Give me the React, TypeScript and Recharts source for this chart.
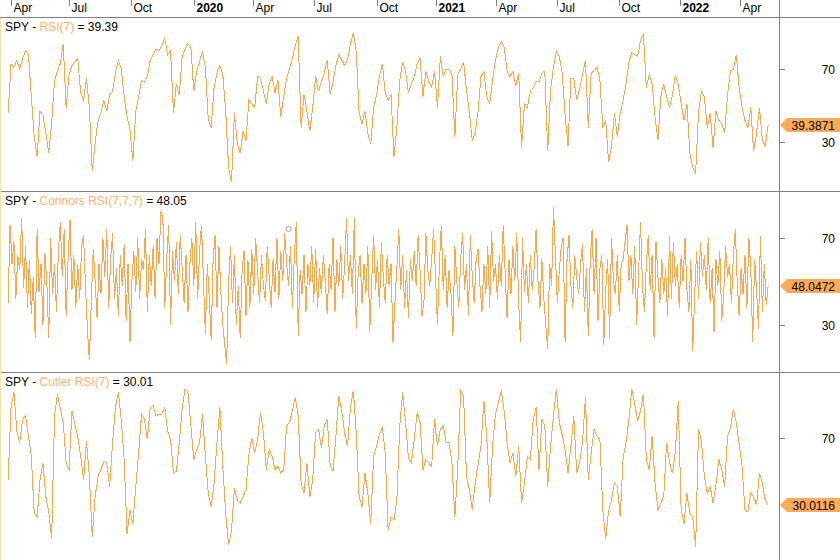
import React from 'react';
import { LineChart, Line, XAxis, YAxis, ReferenceDot } from 'recharts';

// ---- data ----
const tickDays = [3, 63, 127, 192, 253, 316, 381, 443, 505, 568, 632, 695, 757];
const tickLabels = ['Apr', 'Jul', 'Oct', '2020', 'Apr', 'Jul', 'Oct', '2021', 'Apr', 'Jul', 'Oct', '2022', 'Apr'];

const rsiStep = 3; // trading days between samples
const rsi7 = [
  46, 73, 71, 75, 70, 76, 80, 78, 55, 33,
  22, 47, 45, 35, 24, 40, 64, 69, 73, 84,
  49, 67, 72, 74, 76, 57, 53, 65, 49, 14,
  30, 42, 46, 53, 47, 56, 58, 68, 75, 70,
  55, 44, 37, 20, 47, 55, 64, 63, 66, 75,
  78, 81, 80, 83, 87, 78, 80, 46, 62, 56,
  77, 81, 84, 82, 58, 69, 74, 80, 71, 42,
  38, 60, 68, 72, 67, 47, 16, 8, 46, 29,
  24, 36, 31, 53, 51, 49, 66, 65, 58, 51,
  62, 66, 57, 64, 44, 55, 65, 70, 76, 83,
  88, 38, 56, 47, 36, 49, 66, 58, 63, 68,
  75, 56, 63, 72, 78, 75, 72, 75, 84, 90,
  80, 46, 40, 47, 35, 29, 49, 56, 66, 73,
  57, 53, 56, 22, 38, 64, 74, 69, 57, 62,
  66, 73, 76,
  55, 69, 63, 60, 69, 49, 77,
  66, 70, 70, 67, 33, 67, 70, 74, 59, 46,
  31, 35, 47, 66, 69, 55, 51, 64, 75, 82,
  85, 82, 69, 66, 69, 61, 68, 27, 51, 49,
  58, 60, 63, 63, 68, 69, 25, 59, 71, 80,
  77, 68, 45, 28, 65, 65, 53, 59, 67, 75,
  38, 68, 69, 71, 64, 38, 42, 19, 28, 46,
  33, 46, 53, 62, 74, 79, 78, 77, 86, 89,
  60, 67, 62, 44, 31, 55, 62, 55, 49, 56,
  67, 62, 51, 42, 51, 24, 16, 13, 47, 58,
  55, 38, 46, 27, 47, 42, 40, 35, 56, 69,
  70, 78, 60, 49, 42, 38, 49, 25, 35, 49,
  31, 28, 39.3871,
];

const connorsStep = 2;
const connorsRsi = [
  40, 76, 58, 68, 42, 62, 55, 79, 47, 66,
  38, 60, 35, 52, 24, 74, 45, 58, 30, 63,
  50, 24, 70, 44, 58, 36, 64, 77, 52, 74,
  34, 60, 78, 46, 62, 38, 58, 42, 66, 71,
  48, 28, 14, 40, 65, 50, 33, 58, 44, 70,
  52, 74, 38, 60, 72, 42, 56, 34, 62, 48,
  67, 32, 58, 22, 50, 64, 45, 70, 42, 60,
  55, 74, 36, 62, 48, 66, 42, 70, 58, 82,
  80, 38, 60, 76, 30, 64, 50, 68, 44, 71,
  56, 40, 62, 36, 58, 70, 48, 77, 42, 64,
  76, 50, 26, 58, 42, 23, 60, 71, 38, 66,
  45, 30, 21, 12, 50, 66, 40, 62, 30, 48,
  24, 55, 64, 34, 60, 38, 65, 44, 70, 54,
  40, 62, 48, 41, 66, 52, 38, 60, 45, 70,
  42, 64, 50, 72, 58, 48, 66, 38, 62, 77,
  25, 55, 44, 62, 36, 58, 48, 66, 40, 65,
  38, 56, 44, 62, 50, 35, 58, 46, 70, 36,
  60, 48, 66, 42, 58, 79, 50, 62, 44, 79,
  28, 54, 62, 40, 58, 44, 66, 27, 50, 71,
  46, 60, 38, 68, 52, 40, 62, 48, 58, 22,
  40, 56, 74, 46, 62, 38, 55, 33, 60, 50,
  64, 48, 71, 55,
  34, 40, 72, 55, 48, 60,
  74, 52, 30, 58, 76, 46, 62, 38, 55, 44,
  25, 66, 50, 38, 60, 72, 46, 58, 34, 71,
  52, 40, 60, 65, 48, 36, 58, 44, 66, 38,
  73, 50, 58, 42, 62, 48, 76, 54, 33, 60,
  44, 66, 50, 72, 40, 22, 70, 45, 58, 40,
  62, 46, 56, 74, 50, 38, 60, 42, 30, 19,
  58, 48, 84, 62, 40, 55, 66, 70, 22, 60,
  71, 48, 38, 62, 52, 44, 58, 67, 36, 56,
  25, 60, 74, 44, 70, 32, 56, 62, 21, 46,
  60, 24, 70, 50, 44, 62, 36, 58, 60, 68,
  76, 50, 62, 44, 66, 30, 54, 77, 48, 36,
  58, 71, 46, 62, 24, 68, 52, 40, 60, 44,
  56, 34, 71, 42, 68, 48, 58, 38, 62, 50,
  70, 46, 36, 60, 18, 44, 64, 42, 68, 52,
  62, 46, 70, 40, 56, 27, 60, 48, 64, 32,
  44, 66, 52, 58, 40, 62, 74, 50, 34, 56,
  44, 62, 38, 70, 56, 22, 60, 46, 28, 71,
  36, 58, 39, 48.0472,
];

const cutlerStep = 3;
const cutlerRsi = [
  45, 88, 97, 74, 67, 81, 83, 71, 59, 25,
  23, 45, 55, 35, 26, 10, 83, 96, 87, 79,
  55, 51, 86, 78, 71, 59, 45, 68, 47, 11,
  35, 47, 51, 56, 55, 41, 67, 88, 97, 81,
  57, 13, 27, 19, 41, 61, 84, 81, 69, 88,
  89, 83, 84, 84, 88, 74, 69, 49, 50, 67,
  87, 99, 97, 77, 57, 63, 67, 84, 59, 37,
  29, 43, 67, 88, 53, 25, 6, 15, 40, 33,
  31, 35, 39, 60, 70, 61, 69, 85, 73, 51,
  63, 59, 51, 53, 49, 51, 77, 79, 86, 94,
  83, 43, 37, 55, 35, 45, 73, 75, 64, 77,
  81, 54, 50, 71, 95, 86, 73, 65, 88, 98,
  73, 35, 29, 49, 37, 19, 59, 65, 72, 76,
  61, 15, 23, 21, 33, 77, 97, 79, 58, 55,
  69, 85, 79,
  51, 57, 55, 53, 81, 65, 75,
  77, 67, 67, 55, 23, 53, 98, 95, 47, 39,
  27, 43, 54, 65, 92, 71, 31, 65, 84, 91,
  98, 86, 67, 55, 61, 47, 65, 31, 43, 59,
  57, 81, 88, 51, 81, 77, 41, 65, 83, 99,
  79, 72, 63, 49, 65, 83, 49, 55, 67, 94,
  45, 61, 75, 71, 69, 27, 10, 27, 33, 43,
  41, 23, 58, 67, 81, 99, 90, 80, 86, 96,
  57, 51, 71, 43, 27, 31, 35, 67, 55, 49,
  61, 92, 27, 19, 37, 25, 23, 5, 75, 68,
  47, 37, 41, 31, 42, 57, 51, 41, 71, 76,
  87, 79, 66, 53, 27, 26, 37, 35, 30, 49,
  43, 33, 30.0116,
];

const markerDay = 290;
const markerValue = 74;

// ---- styling / layout ----
const W = 840;
const AXIS_W = 61;
const AX = W - AXIS_W; // 779
const ORANGE = '#ffa64d';
const TITLE_ORANGE = '#ffb06a';
const BADGE = '#ffaa58';
const GRAY = '#808080';
const FONT = '"Liberation Sans", Arial, sans-serif';
const DAY_DOMAIN: [number, number] = [-8.4, 797.2];
const TOP_AXIS_H = 17;

const toRows = (vals: number[], step: number) => vals.map((v, i) => ({ day: i * step, v }));

const TopTick = (props: any) => {
  const { x, payload } = props;
  const idx = tickDays.indexOf(payload.value);
  const label = tickLabels[idx] ?? '';
  const bold = /^\d{4}$/.test(label);
  const px = Math.round(x) + 0.5;
  return (
    <g>
      <line x1={px} x2={px} y1={0} y2={6} stroke={GRAY} strokeWidth={1} />
      <text x={px + 2} y={12} fontSize={12} fontFamily={FONT} fontWeight={bold ? 'bold' : 'normal'} fill="#000">
        {label}
      </text>
    </g>
  );
};

const makeRightTick = (last: number, pxPerUnit: number) => (props: any) => {
  const { y, payload } = props;
  const py = Math.round(y) + 0.5;
  if (payload.value === last) {
    const cy = Math.round(y);
    return (
      <g>
        <polygon
          points={`${AX + 1},${cy} ${AX + 8},${cy - 7} ${W},${cy - 7} ${W},${cy + 7} ${AX + 8},${cy + 7}`}
          fill={BADGE}
        />
        <text x={835} y={cy + 4.5} textAnchor="end" fontSize={12} fontFamily={FONT} fill="#000">
          {last.toFixed(4)}
        </text>
      </g>
    );
  }
  // the value badge covers an axis label that sits right under it
  if (Math.abs(payload.value - last) * pxPerUnit < 10) return <g />;
  return (
    <g>
      <line x1={AX} x2={AX + 6} y1={py} y2={py} stroke={GRAY} strokeWidth={1} />
      <text x={835} y={py + 4} textAnchor="end" fontSize={12} fontFamily={FONT} fill="#000">
        {payload.value}
      </text>
    </g>
  );
};

type PanelProps = {
  top: number;
  height: number;
  values: number[];
  step: number;
  domain: [number, number];
  showTop?: boolean;
  marker?: { x: number; y: number };
};

const Panel = ({ top, height, values, step, domain, showTop, marker }: PanelProps) => {
  const rows = toRows(values, step);
  const last = values[values.length - 1];
  const plotH = height - (showTop ? TOP_AXIS_H : 0);
  const pxPerUnit = plotH / (domain[1] - domain[0]);
  return (
    <div style={{ position: 'absolute', left: 0, top, width: W, height }}>
      <LineChart width={W} height={height} data={rows} margin={{ top: 0, right: 0, bottom: 0, left: 0 }}>
        <XAxis
          type="number"
          dataKey="day"
          domain={DAY_DOMAIN}
          allowDataOverflow
          orientation="top"
          height={TOP_AXIS_H}
          hide={!showTop}
          ticks={tickDays}
          interval={0}
          tick={<TopTick />}
          tickLine={false}
          axisLine={false}
        />
        <YAxis
          type="number"
          orientation="right"
          width={AXIS_W}
          domain={domain}
          allowDataOverflow
          ticks={[30, 70, last]}
          interval={0}
          tick={makeRightTick(last, pxPerUnit)}
          tickLine={false}
          axisLine={false}
        />
        <Line
          type="linear"
          dataKey="v"
          stroke={ORANGE}
          strokeWidth={1}
          dot={false}
          activeDot={false}
          isAnimationActive={false}
          style={{ shapeRendering: 'crispEdges' }}
        />
        {marker && (
          <ReferenceDot x={marker.x} y={marker.y} r={2.5} fill="none" stroke="#9a9aa8" strokeWidth={1} />
        )}
      </LineChart>
    </div>
  );
};

const Title = ({ y, name, value }: { y: number; name: string; value: string }) => (
  <text x={5} y={y} fontSize={12} fontFamily={FONT} fill="#000">
    <tspan>SPY - </tspan>
    <tspan fill={TITLE_ORANGE}>{name}</tspan>
    <tspan> = {value}</tspan>
  </text>
);

export default function App() {
  return (
    <div style={{ position: 'absolute', left: 0, top: 0, width: W, height: 560, background: '#fff', overflow: 'hidden' }}>
      <Panel top={0} height={191} values={rsi7} step={rsiStep} domain={[3.3, 98.6]} showTop />
      <Panel
        top={192}
        height={180}
        values={connorsRsi}
        step={connorsStep}
        domain={[8.46, 90.94]}
        marker={{ x: markerDay, y: markerValue }}
      />
      <Panel top={373} height={187} values={cutlerRsi} step={cutlerStep} domain={[-2.69, 108.45]} />
      <svg width={W} height={560} style={{ position: 'absolute', left: 0, top: 0, pointerEvents: 'none' }}>
        <line x1={0} x2={W} y1={17.5} y2={17.5} stroke={GRAY} />
        <line x1={0} x2={W} y1={191.5} y2={191.5} stroke={GRAY} />
        <line x1={0} x2={W} y1={372.5} y2={372.5} stroke={GRAY} />
        <line x1={AX + 0.5} x2={AX + 0.5} y1={0} y2={560} stroke={GRAY} />
        <line x1={0.5} x2={0.5} y1={18} y2={560} stroke="#f6e3a4" />
        <Title y={31} name="RSI(7)" value={rsi7[rsi7.length - 1].toFixed(2)} />
        <Title y={205} name="Connors RSI(7,7,7)" value={connorsRsi[connorsRsi.length - 1].toFixed(2)} />
        <Title y={386} name="Cutler RSI(7)" value={cutlerRsi[cutlerRsi.length - 1].toFixed(2)} />
      </svg>
    </div>
  );
}
